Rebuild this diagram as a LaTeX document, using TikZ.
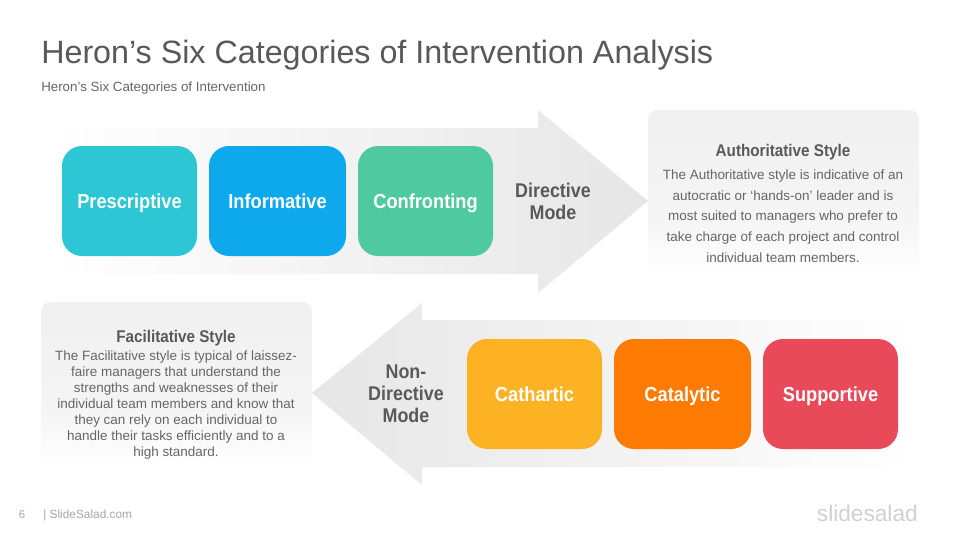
\documentclass[tikz,border=0pt]{standalone}
\usepackage{fontspec}
\setmainfont{Liberation Sans}
\newfontfamily\cond[FakeStretch=0.9]{Liberation Sans}
\definecolor{txt}{HTML}{595959}
\definecolor{bodytxt}{HTML}{666666}
\definecolor{arrowgrey}{HTML}{E6E6E6}
\definecolor{panelgrey}{HTML}{F0F0F0}
\definecolor{panelmid}{HTML}{F5F5F5}
\definecolor{cPres}{HTML}{2DC6D4}
\definecolor{cInfo}{HTML}{0EA9EC}
\definecolor{cConf}{HTML}{4EC9A0}
\definecolor{cCath}{HTML}{FDB223}
\definecolor{cCata}{HTML}{FD7B03}
\definecolor{cSupp}{HTML}{E84A5A}
\pgfdeclareverticalshading{panelfade}{100bp}{color(0bp)=(white); color(25bp)=(white); color(42bp)=(panelmid); color(75bp)=(panelgrey); color(100bp)=(panelgrey)}
\tikzset{
  catbox/.style={rounded corners=15, minimum height=82.5pt, inner sep=0pt, text=white, text height=13pt, text depth=2pt, font=\cond\bfseries\fontsize{15.2}{17}\selectfont},
  modelabel/.style={text=txt, align=center, font=\cond\bfseries\fontsize{14.9}{16.5}\selectfont},
  paneltitle/.style={text=txt, font=\cond\bfseries\fontsize{12.7}{14}\selectfont},
  paneltext/.style={text=bodytxt, align=center, font=\fontsize{10.1}{15.55}\selectfont},
  panel/.style={rounded corners=7.5pt, shading=panelfade}
}
\begin{document}
\begin{tikzpicture}[x=0.75pt,y=-0.75pt]
\useasboundingbox (0,0) rectangle (960,540);
\fill[white] (0,0) rectangle (960,540);
\node[anchor=base west,inner sep=0pt,text=txt,font=\fontsize{24.2}{28}\selectfont] (title) at (41,63) {Heron’s Six Categories of Intervention Analysis};
\node[anchor=base west,inner sep=0pt,text=bodytxt,font=\fontsize{10}{12}\selectfont] (subtitle) at (41,91) {Heron’s Six Categories of Intervention};
% arrows
\shade[left color=white,right color=arrowgrey] (50,128) -- (538,128) -- (538,110) -- (648,201) -- (538,293) -- (538,274) -- (50,274) -- cycle;
\shade[right color=white,left color=arrowgrey] (920,320) -- (422,320) -- (422,303) -- (312,393) -- (422,485) -- (422,467) -- (920,467) -- cycle;
% panels
\shade[panel] (648,110) rectangle (919,276);
\shade[panel] (41,302) rectangle (312,467);
% boxes
\node[catbox,fill=cPres,minimum width=101.25pt] (prescriptive) at (129.5,201) {Prescriptive};
\node[catbox,fill=cInfo,minimum width=102.75pt] (informative) at (277.5,201) {Informative};
\node[catbox,fill=cConf,minimum width=101.25pt] (confronting) at (425.5,201) {Confronting};
\node[modelabel] (directive) at (553,201) {Directive\\Mode};
\node[catbox,fill=cCath,minimum width=101.25pt] (cathartic) at (534.5,394) {Cathartic};
\node[catbox,fill=cCata,minimum width=102.75pt] (catalytic) at (682.5,394) {Catalytic};
\node[catbox,fill=cSupp,minimum width=101.25pt] (supportive) at (830.5,394) {Supportive};
\node[modelabel] (nondirective) at (406,394) {Non-\\Directive\\Mode};
% panel text
\node[paneltitle] (authtitle) at (783,152) {Authoritative Style};
\node[paneltext,anchor=north] (authtext) at (783,165) {The Authoritative style is indicative of an\\autocratic or ‘hands-on’ leader and is\\most suited to managers who prefer to\\take charge of each project and control\\individual team members.};
\node[paneltitle] (factitle) at (176,338) {Facilitative Style};
\node[paneltext,anchor=north,font=\fontsize{10.1}{12}\selectfont] (factext) at (176,346) {The Facilitative style is typical of laissez-\\faire managers that understand the\\strengths and weaknesses of their\\individual team members and know that\\they can rely on each individual to\\handle their tasks efficiently and to a\\high standard.};
% footer
\node[anchor=base,inner sep=0pt,text=black!35,font=\fontsize{8.5}{10}\selectfont] (pagenum) at (22,518) {6};
\node[anchor=base west,inner sep=0pt,text=black!35,font=\fontsize{8.9}{10}\selectfont] (site) at (43,518) {| SlideSalad.com};
\node[anchor=base east,inner sep=0pt,text=black!18,font=\fontsize{17}{20}\selectfont] (logo) at (918,521) {slidesalad};
\end{tikzpicture}
\end{document}
